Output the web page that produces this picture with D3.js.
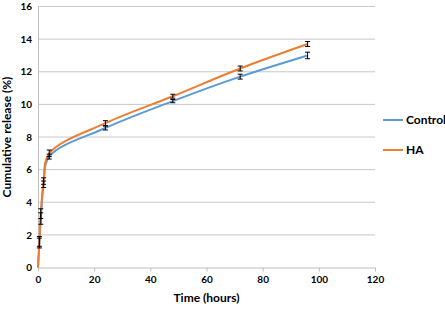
<!DOCTYPE html>
<html><head><meta charset="utf-8">
<script src="https://cdn.jsdelivr.net/npm/d3@7"></script>
<style>body{margin:0;background:#fff}svg{display:block}</style>
</head><body>
<svg id="c" width="445" height="311"></svg>
<script>
const times = [0, 0.5, 1, 2, 4, 24, 48, 72, 96];
const controlValues = [0, 1.5, 3.0, 5.1, 6.8, 8.55, 10.2, 11.7, 13.0];
const controlErrors = [0, 0.3, 0.35, 0.2, 0.15, 0.12, 0.1, 0.15, 0.2];
const haValues = [0, 1.6, 3.3, 5.3, 7.0, 8.85, 10.5, 12.2, 13.7];
const haErrors = [0, 0.3, 0.3, 0.2, 0.2, 0.15, 0.12, 0.15, 0.15];
const xTicks = [0, 20, 40, 60, 80, 100, 120];
const yTicks = [0, 2, 4, 6, 8, 10, 12, 14, 16];
const seriesNames = ["Control", "HA"];
const seriesColors = ["#5B9BD5", "#ED7D31"];

const svg = d3.select("#c");
const L = 38, R = 375, T = 6.5, B = 267.5;
const x = d3.scaleLinear().domain([0, 120]).range([L, R]);
const y = d3.scaleLinear().domain([0, 16]).range([B, T]);
const font = "Lato, 'Open Sans', sans-serif";

// gridlines
svg.append("g").selectAll("line").data(yTicks.filter(d => d > 0)).join("line")
  .attr("x1", L).attr("x2", R).attr("y1", d => y(d)).attr("y2", d => y(d))
  .attr("stroke", "#C8C8C8").attr("stroke-width", 1);

// y axis
const ya = svg.append("g").attr("transform", `translate(${L},0)`)
  .call(d3.axisLeft(y).tickValues(yTicks).tickSize(0).tickPadding(6));
ya.select(".domain").attr("stroke", "#BFBFBF");
ya.selectAll("text").attr("font-family", font).attr("font-weight", "bold").attr("font-size", 10).attr("fill", "#000");

// x axis
const xa = svg.append("g").attr("transform", `translate(0,${B})`)
  .call(d3.axisBottom(x).tickValues(xTicks).tickSize(4).tickSizeOuter(0).tickPadding(4));
xa.select(".domain").attr("stroke", "#BFBFBF");
xa.selectAll(".tick line").attr("stroke", "#BFBFBF");
xa.selectAll("text").attr("font-family", font).attr("font-weight", "bold").attr("font-size", 10).attr("fill", "#000");

// titles
svg.append("text").attr("x", (L + R) / 2).attr("y", 302).attr("text-anchor", "middle")
  .attr("font-family", font).attr("font-weight", "bold").attr("font-size", 12).text("Time (hours)");
svg.append("text").attr("transform", `translate(11,${(T + B) / 2}) rotate(-90)`).attr("text-anchor", "middle")
  .attr("font-family", font).attr("font-weight", "bold").attr("font-size", 12).text("Cumulative release (%)");

const series = [
  { name: seriesNames[0], color: seriesColors[0], vals: controlValues, errs: controlErrors },
  { name: seriesNames[1], color: seriesColors[1], vals: haValues, errs: haErrors }
];
const line = d3.line().x(d => x(d[0])).y(d => y(d[1])).curve(d3.curveCatmullRom.alpha(0.5));

series.forEach(s => {
  const pts = times.map((t, i) => [t, s.vals[i]]);
  svg.append("path").datum(pts).attr("d", line).attr("fill", "none")
    .attr("stroke", s.color).attr("stroke-width", 2);
});
series.forEach(s => {
  const g = svg.append("g").attr("stroke", "#000").attr("stroke-width", 1);
  times.forEach((t, i) => {
    if (s.errs[i] <= 0) return;
    const cx = x(t), y1 = y(s.vals[i] - s.errs[i]), y2 = y(s.vals[i] + s.errs[i]);
    g.append("line").attr("x1", cx).attr("x2", cx).attr("y1", y1).attr("y2", y2);
    g.append("line").attr("x1", cx - 2.5).attr("x2", cx + 2.5).attr("y1", y1).attr("y2", y1);
    g.append("line").attr("x1", cx - 2.5).attr("x2", cx + 2.5).attr("y1", y2).attr("y2", y2);
  });
});

// legend
series.forEach((s, i) => {
  const ly = 120 + i * 30;
  svg.append("line").attr("x1", 383).attr("x2", 403).attr("y1", ly).attr("y2", ly)
    .attr("stroke", s.color).attr("stroke-width", 2);
  svg.append("text").attr("x", 406).attr("y", ly + 4).attr("font-family", font)
    .attr("font-weight", "bold").attr("font-size", 12).text(s.name);
});
</script>
</body></html>
